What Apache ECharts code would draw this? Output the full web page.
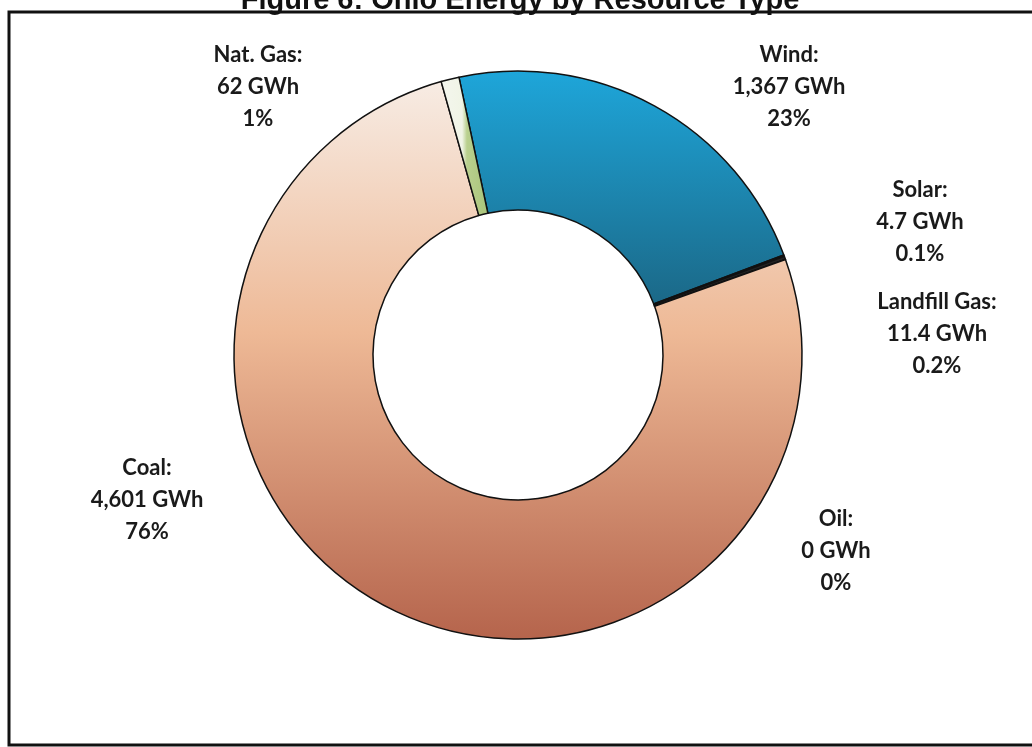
<!DOCTYPE html>
<html>
<head>
<meta charset="utf-8">
<script src="https://cdn.jsdelivr.net/npm/echarts@6/dist/echarts.min.js"></script>
<style>html,body{margin:0;padding:0;background:#fff}#c{width:1032px;height:747px}</style>
</head>
<body>
<div id="c"></div>
<script>
var categories = ['Wind', 'Solar', 'Landfill Gas', 'Oil', 'Coal', 'Nat. Gas'];
var valuesGWh = [1367, 4.7, 11.4, 0, 4601, 62];
var valueLabels = ['1,367', '4.7', '11.4', '0', '4,601', '62'];
var percentLabels = ['23%', '0.1%', '0.2%', '0%', '76%', '1%'];
var titleText = 'Figure 6: Ohio Energy by Resource Type';

var colors = [
  {type:'linear',x:0,y:0,x2:0,y2:1,colorStops:[{offset:0,color:'#1ea6da'},{offset:1,color:'#1b6887'}]},
  '#1d3b4a',
  '#222222',
  '#c8b090',
  {type:'linear',x:0,y:0,x2:0,y2:1,colorStops:[{offset:0,color:'#f7ece4'},{offset:0.45,color:'#eeb996'},{offset:1,color:'#b5644c'}]},
  {type:'linear',x:0,y:0,x2:1,y2:0,colorStops:[{offset:0,color:'#f4f6ee'},{offset:0.45,color:'#f0f4e6'},{offset:0.55,color:'#b9d08e'},{offset:1,color:'#a9c47a'}]}
];
// label anchor positions (layout only)
var labelPos = [[789,87],[920,222],[937,334],[836,551],[147,500],[258,87]];

var chart = echarts.init(document.getElementById('c'));
chart.setOption({
  animation: false,
  graphic: [
    {type:'rect', shape:{x:9,y:12,width:1040,height:733}, style:{fill:'none',stroke:'#111',lineWidth:3}, z:10},
    {type:'text', x:520, y:-14, style:{text:titleText, font:'bold 29px "Liberation Sans", Arial', fill:'#111', align:'center', verticalAlign:'top'}, z:10}
  ],
  series: [{
    type: 'pie',
    center: [518, 355],
    radius: [145, 284],
    startAngle: 102,
    clockwise: true,
    avoidLabelOverlap: false,
    minShowLabelAngle: -1,
    itemStyle: {borderColor:'#111', borderWidth:1.5},
    emphasis: {disabled: true},
    labelLine: {show:false},
    label: {
      show: true,
      position: 'outside',
      formatter: function(p){ return categories[p.dataIndex] + ':\n' + valueLabels[p.dataIndex] + ' GWh\n' + percentLabels[p.dataIndex]; },
      fontFamily: 'Lato, "Open Sans", sans-serif',
      fontWeight: 'bold',
      fontSize: 22,
      lineHeight: 32,
      color: '#1a1a1a',
      align: 'center'
    },
    labelLayout: function(params){
      var p = labelPos[params.dataIndex];
      return {x: p[0], y: p[1], align: 'center', verticalAlign: 'middle'};
    },
    data: categories.map(function(c, i){
      return {name: c, value: valuesGWh[i], itemStyle: {color: colors[i]}};
    })
  }]
});
</script>
</body>
</html>
